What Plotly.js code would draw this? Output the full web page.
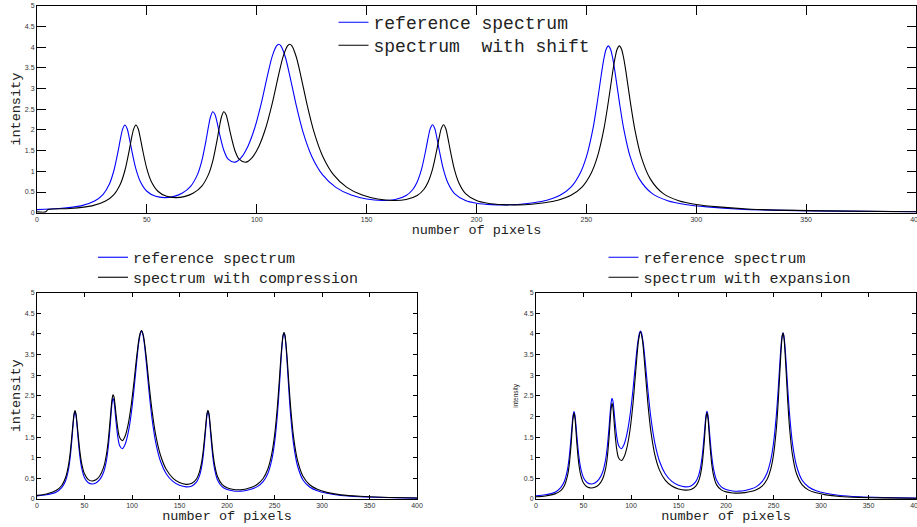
<!DOCTYPE html>
<html>
<head>
<meta charset="utf-8">
<script src="https://cdn.plot.ly/plotly-3.0.1.min.js"></script>
<style>
html, body { margin: 0; padding: 0; background: #ffffff; }
#chart { width: 917px; height: 527px; }
</style>
</head>
<body>
<div id="chart"></div>
<script>
// ---- data ----
const pixelsRef = [0, 10, 20, 26, 30, 33, 35, 37, 38, 39, 40, 41, 42, 43, 45, 47, 50, 54, 58, 62, 66, 70, 73, 75, 77, 78, 79, 80, 81, 82, 83, 85, 87, 90, 93, 96, 99, 102, 105, 107, 109, 110, 111, 113, 115, 118, 121, 125, 130, 136, 143, 150, 157, 163, 168, 171, 173, 175, 177, 178, 179, 180, 181, 182, 183, 185, 187, 190, 195, 200, 207, 214, 220, 226, 232, 238, 243, 247, 250, 253, 255, 257, 258, 259, 260, 261, 262, 263, 265, 267, 270, 274, 280, 287, 295, 305, 320, 340, 365, 400];
const intensityRef = [0.075, 0.102, 0.165, 0.275, 0.438, 0.700, 1.019, 1.512, 1.794, 2.025, 2.119, 2.032, 1.808, 1.534, 1.057, 0.753, 0.518, 0.395, 0.365, 0.389, 0.469, 0.644, 0.920, 1.254, 1.770, 2.071, 2.324, 2.440, 2.374, 2.170, 1.920, 1.510, 1.293, 1.221, 1.339, 1.607, 2.033, 2.630, 3.342, 3.771, 4.029, 4.070, 4.031, 3.760, 3.319, 2.586, 1.959, 1.366, 0.914, 0.612, 0.426, 0.332, 0.295, 0.317, 0.414, 0.561, 0.744, 1.052, 1.534, 1.811, 2.036, 2.125, 2.033, 1.803, 1.523, 1.034, 0.719, 0.463, 0.295, 0.230, 0.195, 0.190, 0.205, 0.240, 0.300, 0.420, 0.618, 0.935, 1.349, 2.032, 2.680, 3.410, 3.728, 3.950, 4.029, 3.949, 3.726, 3.407, 2.676, 2.027, 1.341, 0.824, 0.460, 0.290, 0.200, 0.140, 0.085, 0.055, 0.037, 0.022];

const pixelsShift = [0, 4, 5, 15, 25, 31, 35, 38, 40, 42, 43, 44, 45, 46, 47, 48, 50, 52, 55, 59, 63, 67, 71, 75, 78, 80, 82, 83, 84, 85, 86, 87, 88, 90, 92, 95, 98, 101, 104, 107, 110, 112, 114, 115, 116, 118, 120, 123, 126, 130, 135, 141, 148, 155, 162, 168, 173, 176, 178, 180, 182, 183, 184, 185, 186, 187, 188, 190, 192, 195, 200, 205, 212, 219, 225, 231, 237, 243, 248, 252, 255, 258, 260, 262, 263, 264, 265, 266, 267, 268, 270, 272, 275, 279, 285, 292, 300, 310, 325, 345, 370, 400];
const intensityShift = [0.02, 0.02, 0.075, 0.102, 0.165, 0.275, 0.438, 0.700, 1.019, 1.512, 1.794, 2.025, 2.119, 2.032, 1.808, 1.534, 1.057, 0.753, 0.518, 0.395, 0.365, 0.389, 0.469, 0.644, 0.920, 1.254, 1.770, 2.071, 2.324, 2.440, 2.374, 2.170, 1.920, 1.510, 1.293, 1.221, 1.339, 1.607, 2.033, 2.630, 3.342, 3.771, 4.029, 4.070, 4.031, 3.760, 3.319, 2.586, 1.959, 1.366, 0.914, 0.612, 0.426, 0.332, 0.295, 0.317, 0.414, 0.561, 0.744, 1.052, 1.534, 1.811, 2.036, 2.125, 2.033, 1.803, 1.523, 1.034, 0.719, 0.463, 0.295, 0.230, 0.195, 0.190, 0.205, 0.240, 0.300, 0.420, 0.618, 0.935, 1.349, 2.032, 2.680, 3.410, 3.728, 3.950, 4.029, 3.949, 3.726, 3.407, 2.676, 2.027, 1.341, 0.824, 0.460, 0.290, 0.200, 0.140, 0.085, 0.055, 0.037, 0.024];

const pixelsScaled = [0, 10, 20, 26, 30, 33, 35, 37, 39, 40, 41, 43, 45, 47, 50, 54, 58, 62, 66, 70, 73, 75, 77, 79, 80, 81, 83, 85, 87, 90, 93, 96, 99, 102, 105, 108, 110, 112, 115, 118, 121, 125, 130, 136, 143, 150, 157, 163, 168, 171, 173, 175, 177, 179, 180, 181, 183, 185, 187, 190, 195, 200, 207, 214, 220, 226, 232, 238, 243, 247, 250, 253, 255, 257, 259, 260, 261, 263, 265, 267, 270, 274, 280, 287, 295, 305, 320, 340, 365, 400];
const intensityCompression = [0.088, 0.123, 0.204, 0.328, 0.514, 0.802, 1.134, 1.609, 2.062, 2.142, 2.071, 1.636, 1.179, 0.866, 0.610, 0.470, 0.437, 0.466, 0.558, 0.759, 1.066, 1.417, 1.922, 2.422, 2.526, 2.479, 2.095, 1.712, 1.493, 1.414, 1.539, 1.816, 2.245, 2.820, 3.464, 3.963, 4.083, 3.961, 3.440, 2.769, 2.161, 1.549, 1.060, 0.721, 0.507, 0.397, 0.354, 0.379, 0.492, 0.658, 0.856, 1.176, 1.638, 2.079, 2.152, 2.075, 1.626, 1.155, 0.826, 0.545, 0.350, 0.273, 0.230, 0.225, 0.243, 0.282, 0.357, 0.498, 0.728, 1.082, 1.529, 2.229, 2.851, 3.510, 3.970, 4.035, 3.969, 3.507, 2.847, 2.222, 1.519, 0.960, 0.550, 0.345, 0.235, 0.160, 0.100, 0.065, 0.042, 0.026];
const intensityExpansion = [0.053, 0.074, 0.124, 0.203, 0.330, 0.546, 0.833, 1.337, 1.961, 2.086, 1.966, 1.354, 0.860, 0.584, 0.388, 0.290, 0.267, 0.285, 0.344, 0.480, 0.706, 1.001, 1.520, 2.175, 2.319, 2.213, 1.635, 1.199, 0.995, 0.932, 1.037, 1.277, 1.679, 2.289, 3.103, 3.857, 4.050, 3.855, 3.087, 2.258, 1.626, 1.082, 0.700, 0.459, 0.315, 0.243, 0.216, 0.232, 0.307, 0.424, 0.578, 0.858, 1.354, 1.969, 2.091, 1.967, 1.347, 0.845, 0.560, 0.348, 0.220, 0.173, 0.147, 0.143, 0.155, 0.180, 0.226, 0.314, 0.465, 0.719, 1.070, 1.701, 2.367, 3.211, 3.912, 4.021, 3.911, 3.210, 2.364, 1.698, 1.064, 0.630, 0.350, 0.215, 0.150, 0.100, 0.062, 0.040, 0.027, 0.017];

const xTickVals = [0, 50, 100, 150, 200, 250, 300, 350, 400];
const yTickVals = [0, 0.5, 1, 1.5, 2, 2.5, 3, 3.5, 4, 4.5, 5];
const nameRef = 'reference spectrum';
const nameShift = 'spectrum\u00a0 with shift';
const nameCompression = 'spectrum with compression';
const nameExpansion = 'spectrum with expansion';
const xTitle = 'number of pixels';
const yTitle = 'intensity';

// ---- styling ----
const W = 917, H = 527;
const mono = '"Courier New", "Liberation Mono", monospace';
const sans = 'Arial, "Liberation Sans", Helvetica, sans-serif';
const BLUE = '#0000ff', BLACK = '#000000';

function px2x(p) { return p / W; }
function px2y(p) { return 1 - p / H; }

function xAxis(domain, anchor, ticklen) {
  return {
    domain: domain, anchor: anchor, range: [0, 400],
    tickmode: 'array', tickvals: xTickVals,
    ticks: 'inside', ticklen: ticklen, tickwidth: 1, tickcolor: '#000',
    showline: true, linecolor: '#000', linewidth: 1, mirror: 'ticks',
    showgrid: false, zeroline: false, automargin: false,
    ticklabeloverflow: 'allow',
    tickfont: { family: sans, size: 7, color: '#333' },
    title: { text: xTitle, font: { family: mono, size: 13.5, color: '#222' }, standoff: 2 }
  };
}
function yAxis(domain, anchor, ticklen, titleFont, standoff) {
  return {
    domain: domain, anchor: anchor, range: [0, 5],
    tickmode: 'array', tickvals: yTickVals,
    ticks: 'inside', ticklen: ticklen, tickwidth: 1, tickcolor: '#000',
    showline: true, linecolor: '#000', linewidth: 1, mirror: 'ticks',
    showgrid: false, zeroline: false, automargin: false,
    ticklabeloverflow: 'allow',
    tickfont: { family: sans, size: 7, color: '#333' },
    title: { text: yTitle, font: titleFont, standoff: standoff }
  };
}

const lineW = 1.1;
function curve(color) { return { color: color, width: lineW, shape: 'spline', smoothing: 0.8 }; }
function series(x, y, name, xa, ya, leg, color) {
  return { x: x, y: y, name: name, xaxis: xa, yaxis: ya, legend: leg,
           mode: 'lines', line: curve(color) };
}
const traces = [
  series(pixelsRef, intensityRef, nameRef, 'x', 'y', 'legend', BLUE),
  series(pixelsShift, intensityShift, nameShift, 'x', 'y', 'legend2', BLACK),
  series(pixelsRef, intensityRef, nameRef, 'x2', 'y2', 'legend3', BLUE),
  series(pixelsScaled, intensityCompression, nameCompression, 'x2', 'y2', 'legend4', BLACK),
  series(pixelsRef, intensityRef, nameRef, 'x3', 'y3', 'legend5', BLUE),
  series(pixelsScaled, intensityExpansion, nameExpansion, 'x3', 'y3', 'legend6', BLACK)
];

function legendBox(leftPx, topPx, size) {
  return {
    x: px2x(leftPx), y: px2y(topPx), xanchor: 'left', yanchor: 'top',
    xref: 'paper', yref: 'paper',
    bgcolor: 'rgba(0,0,0,0)', borderwidth: 0,
    font: { family: mono, size: size, color: '#222' },
    itemwidth: 30, tracegroupgap: 0
  };
}

const topDomX = [px2x(37), px2x(916)];
const topDomY = [px2y(212.7), px2y(5.7)];
const botDomY = [px2y(499), px2y(292.7)];
const blDomX = [px2x(37), px2x(417)];
const brDomX = [px2x(536), px2x(916)];

const monoTitle = { family: mono, size: 13.5, color: '#222' };
const tinyTitle = { family: sans, size: 6.5, color: '#222' };

const layout = {
  width: W, height: H,
  margin: { l: 0, r: 0, t: 0, b: 0, pad: 0 },
  paper_bgcolor: '#ffffff', plot_bgcolor: '#ffffff',
  showlegend: true,
  xaxis: xAxis(topDomX, 'y', 9),
  yaxis: yAxis(topDomY, 'x', 9, monoTitle, 1),
  xaxis2: xAxis(blDomX, 'y2', 4),
  yaxis2: yAxis(botDomY, 'x2', 4, monoTitle, 1),
  xaxis3: xAxis(brDomX, 'y3', 4),
  yaxis3: yAxis(botDomY, 'x3', 4, tinyTitle, 4),
  legend: legendBox(333.5, 4, 18),
  legend2: legendBox(333.5, 27, 18),
  legend3: legendBox(93, 241, 15),
  legend4: legendBox(93, 261, 15),
  legend5: legendBox(603.5, 241, 15),
  legend6: legendBox(603.5, 261, 15)
};

Plotly.newPlot('chart', traces, layout, { displayModeBar: false, staticPlot: true });
</script>
</body>
</html>
